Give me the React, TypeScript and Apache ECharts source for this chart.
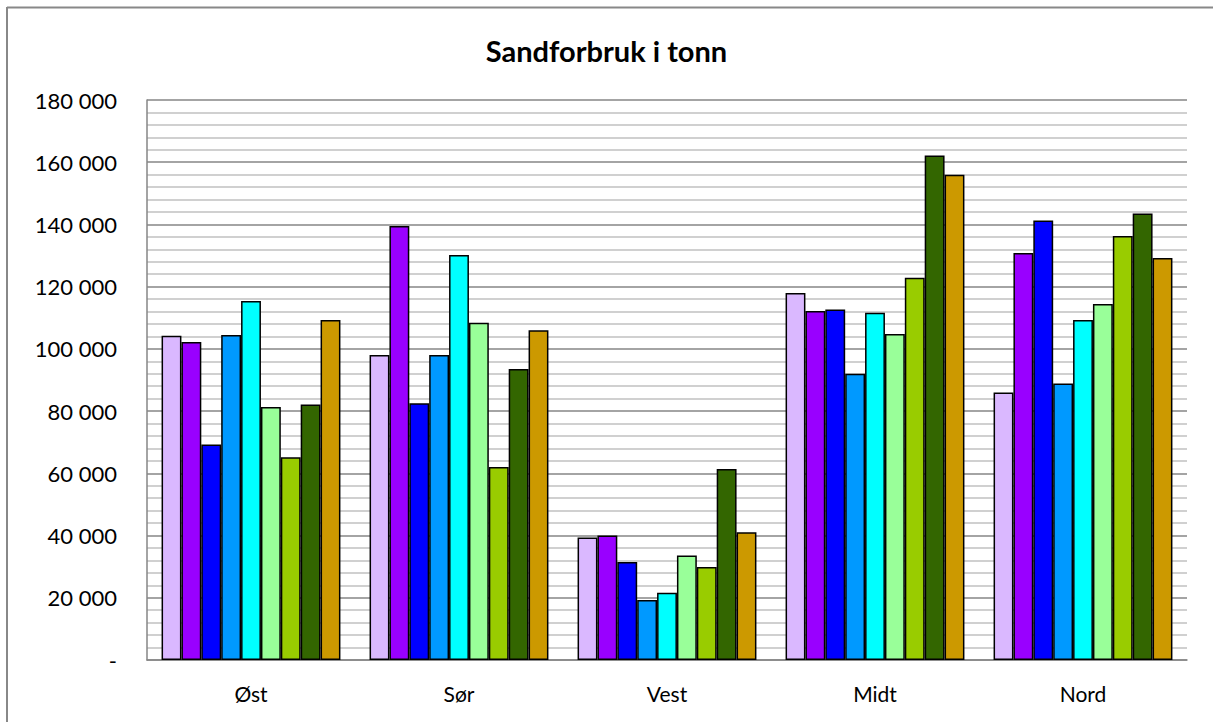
import React, { useEffect, useRef } from "react";
import * as echarts from "echarts";

const categories = ["Øst", "Sør", "Vest", "Midt", "Nord"];
const seriesNames = ["S1", "S2", "S3", "S4", "S5", "S6", "S7", "S8", "S9"];
const seriesColors = ["#DAB8FF", "#9900FF", "#0000FF", "#0099FF", "#00FFFF", "#99FF99", "#99CC00", "#336600", "#CC9900"];
// values per series, one per category
const s1 = [104200, 98000, 39400, 118000, 86000];
const s2 = [102200, 139500, 40000, 112200, 130800];
const s3 = [69300, 82500, 31500, 112700, 141300];
const s4 = [104500, 98000, 19300, 92000, 88900];
const s5 = [115400, 130200, 21600, 111600, 109300];
const s6 = [81300, 108400, 33600, 104800, 114400];
const s7 = [65200, 62000, 29900, 122900, 136300];
const s8 = [82100, 93500, 61400, 162200, 143500];
const s9 = [109300, 106000, 41100, 156000, 129200];
const seriesValues = [s1, s2, s3, s4, s5, s6, s7, s8, s9];
const yMin = 0;
const yMax = 180000;
const yInterval = 20000;

const font = "Lato, 'Open Sans', sans-serif";

function fmt(v: number): string {
  if (v === 0) return "-";
  const s = String(Math.round(v));
  return s.replace(/\B(?=(\d{3})+(?!\d))/g, " ");
}

export default function App() {
  const ref = useRef<HTMLDivElement>(null);
  useEffect(() => {
    document.body.style.margin = "0";
    document.body.style.overflow = "hidden";
    document.body.style.background = "#fff";
    if (!ref.current) return;
    const chart = echarts.init(ref.current, null, { renderer: "svg" });
    chart.setOption({
      animation: false,
      title: {
        text: "Sandforbruk i tonn",
        left: "center",
        top: 31,
        textStyle: { fontFamily: font, fontSize: 29, fontWeight: "bold", color: "#000" },
      },
      graphic: [
        {
          type: "line",
          shape: { x1: 7, y1: 7.5, x2: 1213, y2: 7.5 },
          style: { stroke: "#888888", lineWidth: 2 },
          silent: true,
        },
        {
          type: "line",
          shape: { x1: 7, y1: 7, x2: 7, y2: 722 },
          style: { stroke: "#888888", lineWidth: 2 },
          silent: true,
        },
      ],
      grid: { left: 147, right: 26, top: 100, bottom: 62, containLabel: false },
      xAxis: {
        type: "category",
        data: categories,
        axisLine: { show: true, lineStyle: { color: "#868686", width: 1.5 } },
        axisTick: { show: false },
        axisLabel: { fontFamily: font, fontSize: 21, color: "#000", margin: 23 },
        splitLine: { show: false },
      },
      yAxis: {
        type: "value",
        min: yMin,
        max: yMax,
        interval: yInterval,
        axisLine: { show: true, lineStyle: { color: "#868686", width: 1.5 } },
        axisTick: { show: false },
        minorTick: { show: false, splitNumber: 5 },
        axisLabel: {
          fontFamily: font,
          fontSize: 22,
          color: "#000",
          margin: 30,
          formatter: (v: number) => fmt(v),
        },
        splitLine: { show: true, lineStyle: { color: "#868686", width: 1.5 } },
        minorSplitLine: { show: true, lineStyle: { color: "#c0c0c0", width: 1.5 } },
      },
      series: seriesValues.map((vals, i) => ({
        name: seriesNames[i],
        type: "bar",
        data: vals,
        barGap: "0%",
        barCategoryGap: "14%",
        itemStyle: { color: seriesColors[i], borderColor: "#000", borderWidth: 1.5 },
      })),
    });
    return () => chart.dispose();
  }, []);
  return (
    <div
      ref={ref}
      style={{ position: "fixed", left: 0, top: 0, width: 1213, height: 722, background: "#fff" }}
    />
  );
}
